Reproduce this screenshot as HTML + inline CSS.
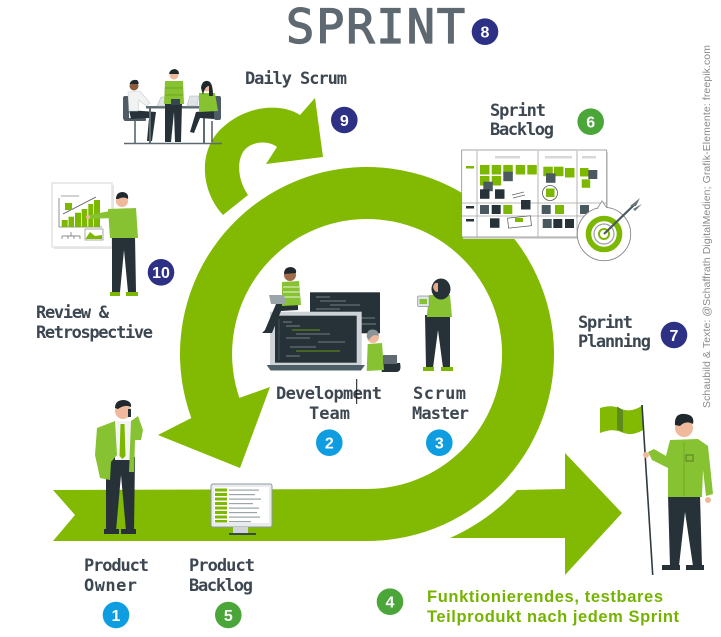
<!DOCTYPE html>
<html><head><meta charset="utf-8">
<style>
html,body{margin:0;padding:0;background:#fff;}
svg{display:block;}
.lbl{font-family:"DejaVu Sans Mono","Liberation Mono",monospace;font-weight:bold;font-size:17px;fill:#3d4751;}
.num{font-family:"Liberation Sans",sans-serif;font-weight:bold;font-size:16px;fill:#fff;text-anchor:middle;}
</style></head>
<body>
<svg width="721" height="637" viewBox="0 0 721 637" xmlns="http://www.w3.org/2000/svg">
<rect width="721" height="637" fill="#fff"/>

<!-- big ring + band -->
<path d="M53 490 L367 489 A135 135 0 1 0 239.4 397.9 L270 387 L240 468 L158 435 L191.3 418 A187 187 0 1 1 367 541 L53 541 L75 515 Z" fill="#82b902"/>
<!-- right arrow -->
<path d="M450 538 A203 203 0 0 0 517 490 L565 489 L565 453 L622 513 L565 575 L565 538 Z" fill="#82b902"/>
<!-- small daily arrow -->
<path d="M223 215 C200 190 198 150 222 128 C245 106 280 102 300 115 L315 98 L323 157 L266 164 L277 147 C268 140 250 141 243 152 C236 164 239 182 248 195 Z" fill="#82b902"/>

<!-- Daily scrum team -->
<g>
<line x1="124" y1="143.5" x2="222" y2="143.5" stroke="#5d6a72" stroke-width="1.5"/>
<rect x="123" y="96" width="6" height="24" rx="2" fill="#4e5c66"/>
<rect x="124" y="118" width="22" height="3" rx="1" fill="#4e5c66"/>
<line x1="135" y1="121" x2="135" y2="143" stroke="#4e5c66" stroke-width="1.5"/>
<path d="M129 110 L156 112 L152 141 L147 141 L149 118 L131 119 Z" fill="#263238"/>
<path d="M128 92 L140 91 L150 103 L146 106 L139 100 L138 111 L129 111 Z" fill="#f2f2f2" stroke="#c9cfd2" stroke-width="0.6"/>
<circle cx="134" cy="86" r="4.5" fill="#8d5b3e"/>
<path d="M129.5 84 Q131 79 137 80 Q139 82 138.5 84 Z" fill="#1f282d"/>
<rect x="146" y="106" width="62" height="2.5" fill="#5d6a72"/>
<rect x="149" y="108" width="2" height="35" fill="#5d6a72"/>
<rect x="203" y="108" width="2" height="35" fill="#5d6a72"/>
<path d="M157 106 L161 97 L171 97 L168 106 Z" fill="#dfe4e7" stroke="#aab3b8" stroke-width="0.5"/>
<path d="M187 106 L190 96 L199 96 L197 106 Z" fill="#dfe4e7" stroke="#aab3b8" stroke-width="0.5"/>
<path d="M165 103 L182 103 L181 142 L175 142 L174 112 L171 142 L165 142 Z" fill="#263238"/>
<path d="M165 81 L183 81 L184 104 L164 104 Z" fill="#86c232"/>
<line x1="165" y1="88" x2="183" y2="88" stroke="#6ea51f" stroke-width="1"/>
<line x1="165" y1="95" x2="183" y2="95" stroke="#6ea51f" stroke-width="1"/>
<rect x="171" y="99" width="9" height="6" fill="#37474f"/>
<circle cx="174" cy="75" r="4.5" fill="#f0b99b"/>
<path d="M169 74 Q170 69 175 69 Q179 70 179 74 Z" fill="#1f282d"/>
<rect x="214" y="96" width="7" height="24" rx="2" fill="#4e5c66"/>
<line x1="212" y1="121" x2="212" y2="142" stroke="#4e5c66" stroke-width="1.5"/>
<path d="M214 110 L196 112 L190 132 L194 133 L200 118 L214 119 Z" fill="#263238"/>
<path d="M199 93 L215 93 L218 111 L199 112 Z" fill="#86c232"/>
<circle cx="207" cy="87" r="4.5" fill="#f0b99b"/>
<path d="M201 88 Q202 80 208 81 Q213 82 213 96 L209 96 L209 86 Q205 86 203 95 Z" fill="#1f282d"/>
</g>

<!-- Review figure -->
<g>
<rect x="54" y="185" width="60" height="64" fill="#e6e6e6"/>
<rect x="52" y="183" width="60" height="64" fill="#fff" stroke="#e3e3e3" stroke-width="1.5"/>
<line x1="59" y1="198" x2="59" y2="227" stroke="#777" stroke-width="0.8"/>
<line x1="59" y1="227" x2="102" y2="227" stroke="#777" stroke-width="0.8"/>
<rect x="61.7" y="220" width="6" height="7" fill="#7cb800"/>
<rect x="68.5" y="216.7" width="5.5" height="10.3" fill="#7cb800"/>
<rect x="75" y="212.7" width="6" height="14.3" fill="#7cb800"/>
<rect x="81.7" y="209" width="5.6" height="18" fill="#7cb800"/>
<rect x="88.3" y="204" width="5" height="23" fill="#7cb800"/>
<rect x="94" y="200" width="6" height="27" fill="#7cb800"/>
<line x1="63" y1="214" x2="96" y2="197" stroke="#555" stroke-width="0.8"/>
<rect x="65" y="203" width="7" height="7" fill="#7cb800"/>
<line x1="61" y1="196" x2="79" y2="196" stroke="#888" stroke-width="0.8"/>
<path d="M62 236 h18 M71 232 v4 M62 236 v3 M68 236 v3 M74 236 v3 M80 236 v3" stroke="#666" stroke-width="0.7" fill="none"/>
<rect x="85" y="229" width="18" height="11" fill="none" stroke="#888" stroke-width="0.7"/>
<path d="M86 238 L90 232 L95 236 L102 235 L102 239 L86 239Z" fill="#7cb800"/>
<path d="M112 236 L135 236 L136 292 L128 292 L124 250 L120 292 L112 292 Z" fill="#263238"/>
<path d="M110 292 h10 v4 h-10z M126 292 h12 v4 h-12z" fill="#7cb800"/>
<path d="M108 209 L136 208 L138 238 L110 238 Z" fill="#86c232"/>
<path d="M110 211 L90 215 L90 219 L112 218 Z" fill="#86c232"/>
<circle cx="88" cy="217" r="2" fill="#f0b99b"/>
<circle cx="122" cy="201" r="6" fill="#f0b99b"/>
<path d="M116 199 Q116 192 123 192 Q129 193 128 199 Q124 196 118 199 Z" fill="#1f282d"/>
</g>

<!-- Sprint board -->
<g>
<rect x="463" y="152" width="145" height="87" fill="#d9d9d9"/>
<rect x="461.7" y="150" width="145" height="87" fill="#fff" stroke="#8f8f8f" stroke-width="0.8"/>
<g fill="#d8d8d8">
<rect x="495" y="156" width="25" height="2.5"/>
<rect x="545" y="156" width="27" height="2.5"/>
<rect x="582" y="156" width="14" height="2.5"/>
</g>
<g stroke="#a0a0a0" stroke-width="0.8">
<line x1="477" y1="151" x2="477" y2="237"/>
<line x1="538" y1="151" x2="538" y2="237"/>
<line x1="577" y1="151" x2="577" y2="237"/>
<line x1="462" y1="203" x2="607" y2="203"/>
<line x1="462" y1="216" x2="607" y2="216"/>
</g>
<rect x="466" y="166" width="8" height="2.5" fill="#7cb800"/>
<rect x="466" y="206" width="8" height="2.5" fill="#263238"/>
<rect x="466" y="219" width="8" height="2.5" fill="#263238"/>
<g fill="#7cb800">
<rect x="480" y="165" width="9.5" height="9.5"/>
<rect x="491.7" y="165" width="9.5" height="9.5"/>
<rect x="503.3" y="165" width="9.5" height="9.5"/>
<rect x="515.7" y="165" width="9.5" height="9.5"/>
<rect x="527.3" y="165" width="9.5" height="9.5"/>
<rect x="480" y="176" width="9.5" height="9.5"/>
<rect x="491.7" y="176" width="9.5" height="9.5"/>
<rect x="543.3" y="166.7" width="9.5" height="9.5"/>
<rect x="554" y="166.7" width="9.5" height="9.5"/>
<rect x="565" y="168" width="9.5" height="9.5"/>
<rect x="580" y="168" width="8.5" height="8.5"/>
<rect x="581.7" y="179.3" width="8.5" height="8.5"/>
<rect x="503.3" y="205" width="9" height="9"/>
<rect x="555" y="205" width="9" height="9"/>
<rect x="546" y="188.5" width="8.5" height="8.5"/>
</g>
<g fill="#4a5860">
<rect x="483.3" y="181.7" width="9.5" height="9.5"/>
<rect x="503.3" y="171.7" width="9.5" height="9.5"/>
<rect x="546" y="173.3" width="9.5" height="9.5"/>
<rect x="588.3" y="170" width="9" height="9"/>
<rect x="480" y="205" width="9" height="9"/>
<rect x="541.7" y="205" width="9" height="9"/>
<rect x="580" y="205" width="9" height="9"/>
<rect x="542.7" y="219" width="9" height="9"/>
</g>
<g fill="#263238">
<rect x="480" y="189.3" width="9.5" height="9.5"/>
<rect x="495" y="189.3" width="9.5" height="9.5"/>
<rect x="521" y="200" width="9.5" height="9.5"/>
<rect x="491.7" y="205" width="9" height="9"/>
<rect x="490" y="218.3" width="9.5" height="9.5"/>
<rect x="553.3" y="219" width="9" height="9"/>
<rect x="565" y="219" width="9" height="9"/>
</g>
<circle cx="550" cy="193" r="7.5" fill="none" stroke="#555" stroke-width="0.8"/>
<path d="M512 195 l12 -3 M513 198 l12 -3" stroke="#666" stroke-width="0.7"/>
<rect x="508" y="217" width="23" height="10" fill="#fff" stroke="#555" stroke-width="0.7" transform="rotate(-6 519 222)"/>
<rect x="515" y="218" width="8" height="4" fill="#7cb800"/>
<!-- target -->
<circle cx="604" cy="234" r="26.7" fill="#fff" stroke="#8a8a8a" stroke-width="0.9"/>
<path d="M597 209 L602 201 L607 208" fill="#fff" stroke="#8a8a8a" stroke-width="0.8"/>
<circle cx="604" cy="234" r="15.5" fill="none" stroke="#7cb800" stroke-width="5.6"/>
<circle cx="604" cy="234" r="10" fill="#fff" stroke="#9aa0a3" stroke-width="1.2"/>
<circle cx="604" cy="234" r="5" fill="none" stroke="#7cb800" stroke-width="2"/>
<line x1="604" y1="234" x2="634" y2="205" stroke="#4a5860" stroke-width="2.2"/>
<path d="M630 206 L640 198 L636 206 Z M633 209 L642 204 L635 211 Z" fill="#6a767c"/>
</g>

<!-- Development team -->
<g>
<rect x="310" y="292.3" width="70" height="41" fill="#263238"/>
<g stroke="#8e999e" stroke-width="0.8">
<line x1="316" y1="297" x2="330" y2="297"/>
<line x1="320" y1="301" x2="346" y2="301"/>
<line x1="330" y1="305" x2="360" y2="305"/>
<line x1="316" y1="309" x2="340" y2="309"/>
<line x1="358" y1="318" x2="375" y2="318"/>
<line x1="360" y1="324" x2="376" y2="324"/>
</g>
<rect x="270" y="311.7" width="91.7" height="53.5" fill="#cdd3d6"/>
<rect x="275" y="315.7" width="81.7" height="47" fill="#263238"/>
<g stroke="#8e999e" stroke-width="0.8">
<line x1="279" y1="319" x2="279" y2="360" stroke="#4b585e"/>
<line x1="283" y1="322" x2="292" y2="322"/>
<line x1="286" y1="326" x2="300" y2="326"/>
<line x1="292" y1="330" x2="320" y2="330" stroke="#7cb800"/>
<line x1="296" y1="334" x2="330" y2="334"/>
<line x1="286" y1="338" x2="310" y2="338"/>
<line x1="318" y1="342" x2="345" y2="342"/>
<line x1="290" y1="347" x2="316" y2="347"/>
<line x1="296" y1="351" x2="340" y2="351" stroke="#7cb800"/>
<line x1="286" y1="356" x2="300" y2="356"/>
</g>
<path d="M266.7 365 L365 365 L361 370.5 L270.5 370.5 Z" fill="#4f5f68"/>
<path d="M298 303 L276 304 L265 330 L262 333 L272 333 L281 311 L298 310 Z" fill="#263238"/>
<path d="M282 282 L299 281 L301 305 L282 306 Z" fill="#86c232"/>
<g stroke="#d7ecb8" stroke-width="1.2"><line x1="283" y1="287" x2="300" y2="287"/><line x1="283" y1="292" x2="300" y2="292"/><line x1="283" y1="297" x2="300" y2="297"/></g>
<path d="M269 295 L284 295 L286 304 L271 304 Z" fill="#9aa4a9"/>
<circle cx="290" cy="275" r="6" fill="#a16a4a"/>
<path d="M284 274 Q284 267 291 267 Q297 268 296 273 Z" fill="#1f282d"/>
<path d="M381.7 363 L400 363 Q402 372 396 372 L381.7 372 Z" fill="#263238"/>
<path d="M367.7 344 L382 343 L384 370 L366.7 371 Z" fill="#86c232"/>
<rect x="383" y="355" width="14" height="9" fill="#5f6b71"/>
<circle cx="373" cy="337" r="6" fill="#f0b99b"/>
<path d="M366.7 337 Q366.7 329 373 329.5 Q379 330 378.5 336 Q373 333 369 340 Z" fill="#8a9499"/>
</g>

<!-- Scrum master -->
<g>
<path d="M425 315 L450 315 L450 368 L443 368 L438 330 L433 368 L426 368 Z" fill="#263238"/>
<path d="M423 367 h11 v4 h-11z M441 367 h12 v4 h-12z" fill="#7cb800"/>
<path d="M429 295 L450 295 L452 317 L426.7 317 Z" fill="#86c232"/>
<path d="M431 299 L424 303 L425 307 L433 304 Z" fill="#86c232"/>
<rect x="417.7" y="296" width="11.5" height="10.5" rx="1" fill="#dfe4e7" stroke="#8c969b" stroke-width="0.8"/>
<rect x="419.5" y="299" width="7.5" height="5" fill="#86c232"/>
<ellipse cx="441" cy="289" rx="9.5" ry="10.5" fill="#263238"/>
<path d="M433 287 Q434 282 438 283 L438 292 Q434 292 433 287Z" fill="#e8a98a"/>
</g>

<!-- Product owner -->
<g>
<path d="M106 457 L135 457 L134 531 L126 531 L121 475 L116 531 L106 531 Z" fill="#263238"/>
<path d="M104 529 h15 v5 h-15z M121 529 h15 v5 h-15z" fill="#263238"/>
<rect x="115" y="421" width="16" height="39" fill="#f4f4f4"/>
<path d="M120.5 424 L124.5 424 L125.5 456 L122.5 459 L119.5 456 Z" fill="#7cb800"/>
<path d="M115 421 L97 428 L95 455 L100 478 L110 480 L111 462 L117 455 Z" fill="#86c232"/>
<path d="M131 421 L138 416 L143 430 L141 440 L135 440 L134 472 L129 472 Z" fill="#86c232"/>
<circle cx="123" cy="411" r="8" fill="#f0b99b"/>
<path d="M115 408 Q115 400 124 400 Q132 401 131 407 Q125 404 118 409 Z" fill="#1f282d"/>
<rect x="128" y="409" width="3" height="8" fill="#263238"/>
</g>

<!-- Product backlog monitor -->
<g>
<rect x="211" y="484" width="61" height="43" rx="2" fill="#e9ecee" stroke="#8e989d" stroke-width="1"/>
<rect x="214" y="487" width="55" height="36" fill="#fff"/>
<g fill="#7cb800">
<rect x="215" y="488.5" width="12" height="3"/><rect x="215" y="493" width="12" height="3"/>
<rect x="215" y="497.5" width="12" height="3"/><rect x="215" y="502" width="12" height="3"/>
<rect x="215" y="506.5" width="12" height="3"/><rect x="215" y="511" width="12" height="3"/>
<rect x="215" y="515.5" width="12" height="3"/><rect x="215" y="520" width="12" height="2.5"/>
</g>
<g fill="#9aa4a9">
<rect x="229" y="489.5" width="30" height="1.2"/><rect x="229" y="494" width="26" height="1.2"/>
<rect x="229" y="498.5" width="32" height="1.2"/><rect x="229" y="503" width="24" height="1.2"/>
<rect x="229" y="507.5" width="30" height="1.2"/><rect x="229" y="512" width="28" height="1.2"/>
<rect x="229" y="516.5" width="31" height="1.2"/><rect x="229" y="521" width="22" height="1.2"/>
</g>
<rect x="233" y="527" width="15" height="6" fill="#cfd5d8"/>
<rect x="229" y="533" width="27" height="2" fill="#3a474f"/>
</g>

<!-- Flag man -->
<g>
<path d="M600 408 Q612 404 621 409 Q632 413 643 405 L643 430 Q632 437 621 432 Q612 428 600 433 Z" fill="#82b902"/>
<path d="M617 406.5 L623 410 L623 432 L617 429.5 Z" fill="#5e8a1c"/>
<line x1="642" y1="405" x2="652.7" y2="575" stroke="#2f3a40" stroke-width="1.6"/>
<path d="M668 495 L700 495 L702 566 L693 566 L685 512 L679 566 L670 566 Z" fill="#263238"/>
<path d="M662 565 h18 v5 h-18z M686 565 h18 v5 h-18z" fill="#263238"/>
<path d="M670 440 L698 439 L708 446 L713 494 L706 496 L703 470 L702 497 L668 497 L668 468 L652 460 L648 452 L654 449 L666 456 Z" fill="#86c232"/>
<line x1="684" y1="442" x2="684" y2="496" stroke="#6ea51f" stroke-width="0.8"/>
<rect x="686" y="455" width="7" height="6" fill="none" stroke="#4d6b20" stroke-width="0.8"/>
<circle cx="646" cy="455" r="3" fill="#f0b99b"/>
<circle cx="708" cy="500" r="3" fill="#f0b99b"/>
<circle cx="684" cy="428" r="9" fill="#f0b99b"/>
<path d="M675 425 Q674 413 685 414 Q695 415 693 424 Q686 420 680 426 Z" fill="#1f282d"/>
</g>

<!-- Title -->
<text x="286" y="43" font-family="DejaVu Sans Mono, Liberation Mono, monospace" font-size="47" fill="#5e6971" stroke="#5e6971" stroke-width="1.3" textLength="179">SPRINT</text>

<!-- Labels -->
<text class="lbl" x="245" y="84" textLength="102">Daily Scrum</text>
<text class="lbl" x="490" y="116" textLength="56">Sprint</text>
<text class="lbl" x="490" y="135" textLength="64">Backlog</text>
<text class="lbl" x="578" y="328" textLength="55">Sprint</text>
<text class="lbl" x="578" y="347" textLength="73">Planning</text>
<text class="lbl" x="36" y="318" textLength="73">Review &amp;</text>
<text class="lbl" x="36" y="338" textLength="117">Retrospective</text>
<text class="lbl" x="276" y="399" textLength="106">Development</text>
<text class="lbl" x="309" y="419" textLength="41">Team</text>
<text class="lbl" x="413" y="399" textLength="53">Scrum</text>
<text class="lbl" x="412" y="419" textLength="57">Master</text>
<text class="lbl" x="84" y="571" textLength="65">Product</text>
<text class="lbl" x="84" y="591" textLength="53">Owner</text>
<text class="lbl" x="189" y="571" textLength="66">Product</text>
<text class="lbl" x="189" y="591" textLength="64">Backlog</text>
<line x1="356.7" y1="379" x2="356.7" y2="404" stroke="#111" stroke-width="1"/>

<!-- Green caption -->
<text x="427" y="602" font-family="Liberation Sans, sans-serif" font-weight="bold" font-size="16.5" fill="#74b300" textLength="236">Funktionierendes, testbares</text>
<text x="427" y="622" font-family="Liberation Sans, sans-serif" font-weight="bold" font-size="16.5" fill="#74b300" textLength="252">Teilprodukt nach jedem Sprint</text>

<!-- Credit -->
<text transform="translate(710 408) rotate(-90)" font-family="Liberation Sans, sans-serif" font-size="10.5" fill="#8b8b8b" textLength="363">Schaubild &amp; Texte: @Schaffrath DigitalMedien; Grafik-Elemente: freepik.com</text>

<!-- Badges -->
<g>
<circle cx="485" cy="31.7" r="13.3" fill="#2d3185"/><text class="num" x="485" y="37.5">8</text>
<circle cx="344.3" cy="120" r="13.3" fill="#2d3185"/><text class="num" x="344.3" y="125.8">9</text>
<circle cx="590.7" cy="121.7" r="13.3" fill="#4ba63a"/><text class="num" x="590.7" y="127.5">6</text>
<circle cx="161" cy="272.3" r="13.3" fill="#2d3185"/><text class="num" x="161" y="278" font-size="15">10</text>
<circle cx="674" cy="335" r="13.3" fill="#2d3185"/><text class="num" x="674" y="340.8">7</text>
<circle cx="329.3" cy="442.7" r="13.3" fill="#0d9de0"/><text class="num" x="329.3" y="448.5">2</text>
<circle cx="439.3" cy="442.7" r="13.3" fill="#0d9de0"/><text class="num" x="439.3" y="448.5">3</text>
<circle cx="116" cy="615" r="13.3" fill="#0d9de0"/><text class="num" x="116" y="620.8">1</text>
<circle cx="228.3" cy="615" r="13.3" fill="#4ba63a"/><text class="num" x="228.3" y="620.8">5</text>
<circle cx="390" cy="601.7" r="13.3" fill="#4ba63a"/><text class="num" x="390" y="607.5">4</text>
</g>
</svg>
</body></html>
